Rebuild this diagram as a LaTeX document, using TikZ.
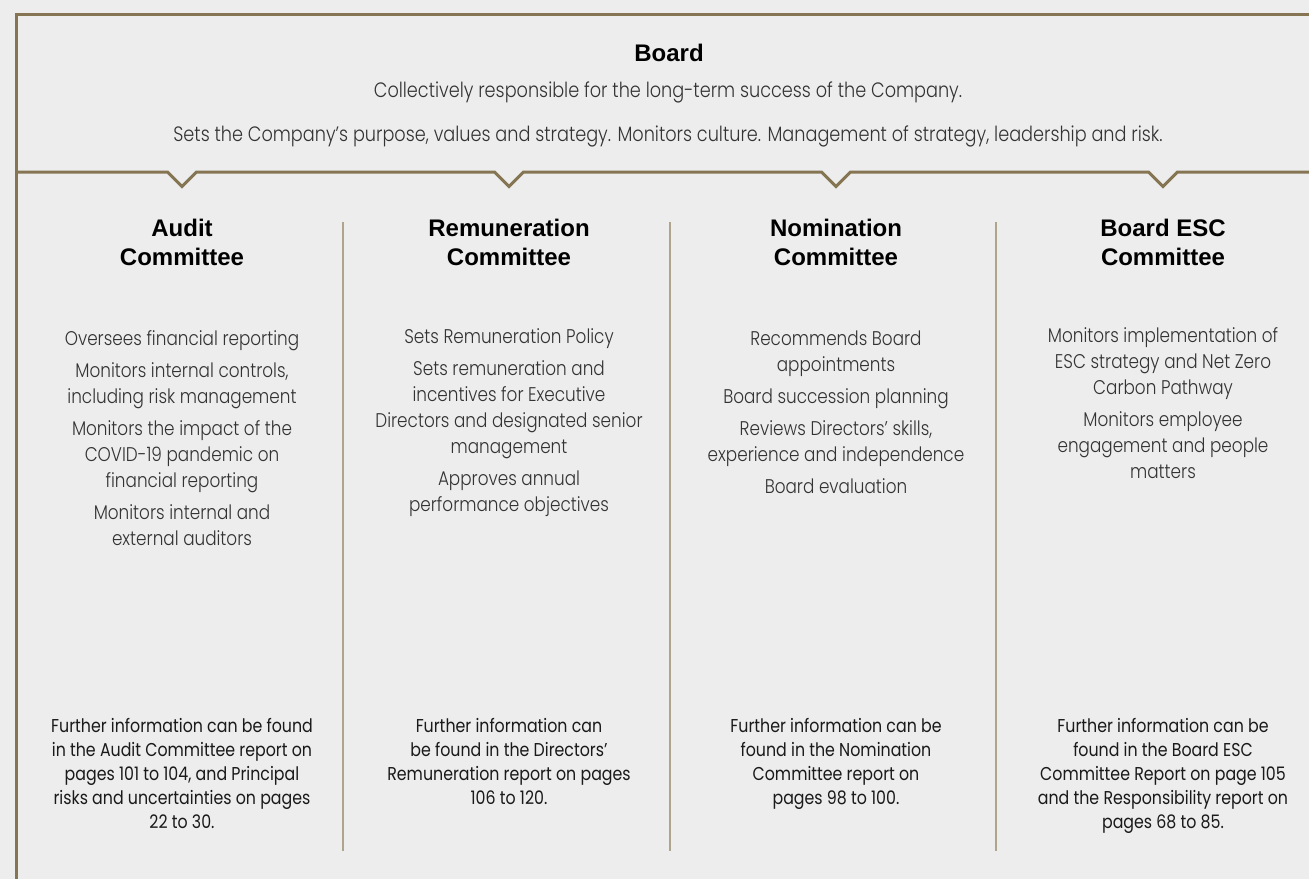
\documentclass[tikz,border=0pt]{standalone}
\usepackage{fontspec}
\usepackage{xcolor}
\setmainfont{Poppins}[UprightFont={* Light}, FakeStretch=0.85]
\newfontfamily\infofont{Poppins}[FakeStretch=0.85]
\newfontfamily\headfont{Liberation Sans}
\usetikzlibrary{positioning}

\definecolor{frame-gold}{HTML}{857553}
\definecolor{rule-gold}{HTML}{AFA58C}
\definecolor{page-grey}{HTML}{EDEDED}
\definecolor{text-grey}{HTML}{333333}
\definecolor{text-dark}{HTML}{1A1A1A}

\begin{document}
\begin{tikzpicture}
[
x=1pt, y=-1pt,
frame-a/.style={draw=frame-gold, line width=3pt},
rule-a/.style={draw=rule-gold, line width=2pt},
title-a/.style={anchor=base, inner sep=0pt, font=\headfont\bfseries\fontsize{24}{26}\selectfont},
head-a/.style={anchor=base, inner sep=0pt, align=center, font=\headfont\bfseries\fontsize{24}{29}\selectfont},
top-a/.style={anchor=base, inner sep=0pt, text=text-grey, font=\fontsize{20.8}{26}\selectfont},
text-a/.style={anchor=base, inner sep=0pt, align=center, text=text-grey, font=\fontsize{19.8}{26}\selectfont},
info-a/.style={anchor=base, inner sep=0pt, align=center, text=text-dark, font=\infofont\fontsize{18.6}{24}\selectfont}
]
\fill[page-grey] (0,0) rectangle (1309,879);
\useasboundingbox (0,0) rectangle (1309,879);

% frame and notched rule
\draw[frame-a] (1309,14) -- (16.5,14) -- (16.5,879);
\draw[frame-a] (16.5,172)
  \foreach \cx in {182,509,836,1163} {-- (\cx-14.5,172) -- (\cx,186.5) -- (\cx+14.5,172)}
  -- (1309,172);
\foreach \dx in {343,670,996} \draw[rule-a] (\dx,222) -- (\dx,851);

% board (base = last line)
\node (board)      [title-a] at (669,61)  {Board};
\node (board-1)    [top-a]   at (668,97)  {Collectively responsible for the long-term success of the Company.};
\node (board-2)    [top-a]   at (668,141) {Sets the Company’s purpose, values and strategy. Monitors culture. Management of strategy, leadership and risk.};

% committees
\node (audit)      [head-a]  at (182,265)  {Audit\\Committee};
\node (remun)      [head-a]  at (509,265)  {Remuneration\\Committee};
\node (nomin)      [head-a]  at (836,265)  {Nomination\\Committee};
\node (esc)        [head-a]  at (1163,265) {Board ESC\\Committee};

\node (audit-text) [text-a]  at (182,545)  {Oversees financial reporting\\[6pt]
  Monitors internal controls,\\including risk management\\[6pt]
  Monitors the impact of the\\COVID-19 pandemic on\\financial reporting\\[6pt]
  Monitors internal and\\external auditors};
\node (remun-text) [text-a]  at (509,511)  {Sets Remuneration Policy\\[6pt]
  Sets remuneration and\\incentives for Executive\\Directors and designated senior\\management\\[6pt]
  Approves annual\\performance objectives};
\node (nomin-text) [text-a]  at (836,493)  {Recommends Board\\appointments\\[6pt]
  Board succession planning\\[6pt]
  Reviews Directors’ skills,\\experience and independence\\[6pt]
  Board evaluation};
\node (esc-text)   [text-a]  at (1163,478) {Monitors implementation of\\ESC strategy and Net Zero\\Carbon Pathway\\[6pt]
  Monitors employee\\engagement and people\\matters};

% further information
\node (audit-info) [info-a]  at (182,828)  {Further information can be found\\in the Audit Committee report on\\pages 101 to 104, and Principal\\risks and uncertainties on pages\\22 to 30.};
\node (remun-info) [info-a]  at (509,804)  {Further information can\\be found in the Directors’\\Remuneration report on pages\\106 to 120.};
\node (nomin-info) [info-a]  at (836,804)  {Further information can be\\found in the Nomination\\Committee report on\\pages 98 to 100.};
\node (esc-info)   [info-a]  at (1163,828) {Further information can be\\found in the Board ESC\\Committee Report on page 105\\and the Responsibility report on\\pages 68 to 85.};
\end{tikzpicture}
\end{document}
